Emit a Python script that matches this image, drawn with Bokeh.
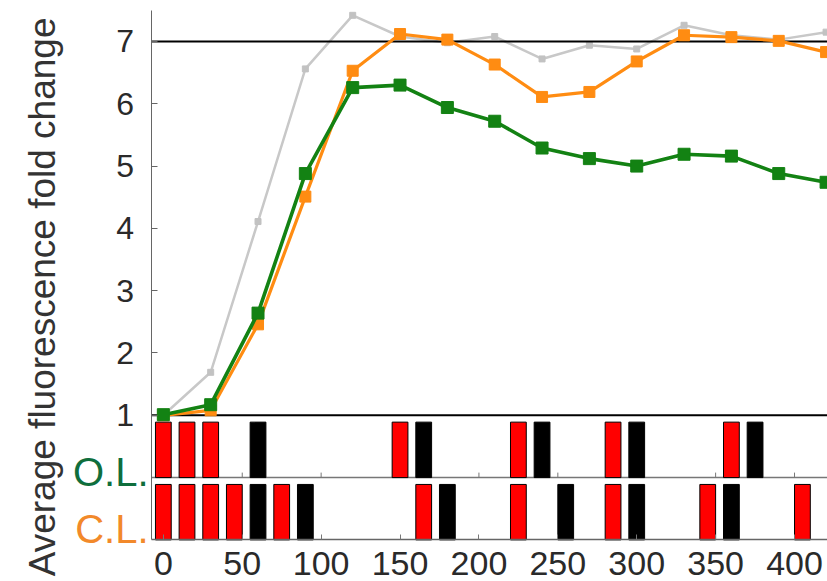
import math
from bokeh.plotting import figure
from bokeh.models import FixedTicker, Label, Range1d
from bokeh.embed import file_html
from bokeh.resources import INLINE

# ---- data ----
time_min = [0, 30, 60, 90, 120, 150, 180, 210, 240, 270, 300, 330, 360, 390, 420]
ol_fold = [1.01, 1.17, 2.64, 4.88, 6.26, 6.30, 5.94, 5.72, 5.29, 5.12, 5.00, 5.19, 5.16, 4.88, 4.74]
cl_fold = [1.00, 1.08, 2.46, 4.51, 6.53, 7.12, 7.03, 6.63, 6.11, 6.19, 6.68, 7.10, 7.07, 7.01, 6.83]
ref_fold = [1.00, 1.69, 4.11, 6.56, 7.42, 7.08, 6.98, 7.08, 6.72, 6.94, 6.88, 7.26, 7.10, 7.03, 7.15]

ol_red = [0, 15, 30, 150, 225, 285, 360]
ol_black = [60, 165, 240, 300, 375]
cl_red = [0, 15, 30, 45, 75, 165, 225, 285, 345, 405]
cl_black = [60, 90, 180, 255, 300, 360]

x_ticks = [0, 50, 100, 150, 200, 250, 300, 350, 400]
y_ticks = [1, 2, 3, 4, 5, 6, 7]
ref_levels = [1, 7]
row_split = [0]

FONT = "Liberation Sans"
GREEN = "#138213"
ORANGE = "#ff8c12"

X0, X1 = -7.8, 420.9      # plotting area (x)
Y0, Y1 = -1.0, 7.50       # plotting area (y)

p = figure(width=827, height=581,
           x_range=Range1d(-103.2, X1), y_range=Range1d(-1.668, 7.658),
           output_backend="svg", toolbar_location=None,
           min_border_left=0, min_border_right=0,
           min_border_top=0, min_border_bottom=0)
p.grid.visible = False
p.outline_line_color = None
p.background_fill_color = "white"
p.border_fill_color = "white"

# axes (placed at fixed locations inside the canvas)
p.yaxis.fixed_location = X0
p.yaxis.bounds = (Y0, Y1)
p.yaxis.ticker = FixedTicker(ticks=y_ticks)
p.yaxis.major_label_text_font = FONT
p.yaxis.major_label_text_font_size = "32px"
p.yaxis.major_label_text_color = "#2a2a2a"
p.yaxis.major_tick_in = 6
p.yaxis.major_tick_out = 0
p.yaxis.minor_tick_line_color = None
p.yaxis.axis_line_color = "#666666"
p.yaxis.major_tick_line_color = "#666666"
p.yaxis.major_label_standoff = 17

p.xaxis.fixed_location = Y0
p.xaxis.bounds = (X0, X1)
p.xaxis.ticker = FixedTicker(ticks=x_ticks)
p.xaxis.major_label_text_font = FONT
p.xaxis.major_label_text_font_size = "34px"
p.xaxis.major_label_text_color = "#2a2a2a"
p.xaxis.major_tick_in = 5
p.xaxis.major_tick_out = 0
p.xaxis.minor_tick_line_color = None
p.xaxis.axis_line_color = "#666666"
p.xaxis.axis_line_width = 1.5
p.xaxis.major_tick_line_color = "#777777"
p.xaxis.major_label_standoff = 12

# row separator and its ticks
p.segment(x0=X0, x1=X1, y0=row_split, y1=row_split, line_color="#777777", line_width=1.5)
p.segment(x0=x_ticks, y0=0, x1=x_ticks, y1=0.08, line_color="#777777", line_width=1)

# reference (grey) curve
p.line(time_min, ref_fold, line_color="#c8c8c8", line_width=2.5)
p.scatter(time_min, ref_fold, marker="square", size=6, color="#c2c2c2")

# black reference lines
p.segment(x0=X0, x1=X1, y0=ref_levels, y1=ref_levels, line_color="black", line_width=2)

# series
p.line(time_min, cl_fold, line_color=ORANGE, line_width=3.2)
p.scatter(time_min, cl_fold, marker="square", size=11, color=ORANGE)
p.line(time_min, ol_fold, line_color=GREEN, line_width=3.6)
p.scatter(time_min, ol_fold, marker="square", size=12, color=GREEN)

# light-pulse bars
p.vbar(x=ol_red, width=10, bottom=0, top=0.89, fill_color="#ff0000", line_color="black", line_width=1)
p.vbar(x=ol_black, width=10, bottom=0, top=0.89, fill_color="black", line_color="black", line_width=1)
p.vbar(x=cl_red, width=10, bottom=-1, top=-0.11, fill_color="#ff0000", line_color="black", line_width=1)
p.vbar(x=cl_black, width=10, bottom=-1, top=-0.11, fill_color="black", line_color="black", line_width=1)

# labels
p.add_layout(Label(x=-76.6, y=2.90, text="Average fluorescence fold change", angle=math.pi / 2,
                   text_align="center", text_baseline="alphabetic",
                   text_font=FONT, text_font_size="37px", text_color="#333333"))
p.add_layout(Label(x=-9.4, y=0.09, text="O.L.", text_align="right", text_baseline="alphabetic",
                   text_font=FONT, text_font_size="40px", text_color="#0f6e3c"))
p.add_layout(Label(x=-9.4, y=-0.82, text="C.L.", text_align="right", text_baseline="alphabetic",
                   text_font=FONT, text_font_size="40px", text_color="#f2892a"))

open("out.html", "w").write(file_html(p, INLINE))
